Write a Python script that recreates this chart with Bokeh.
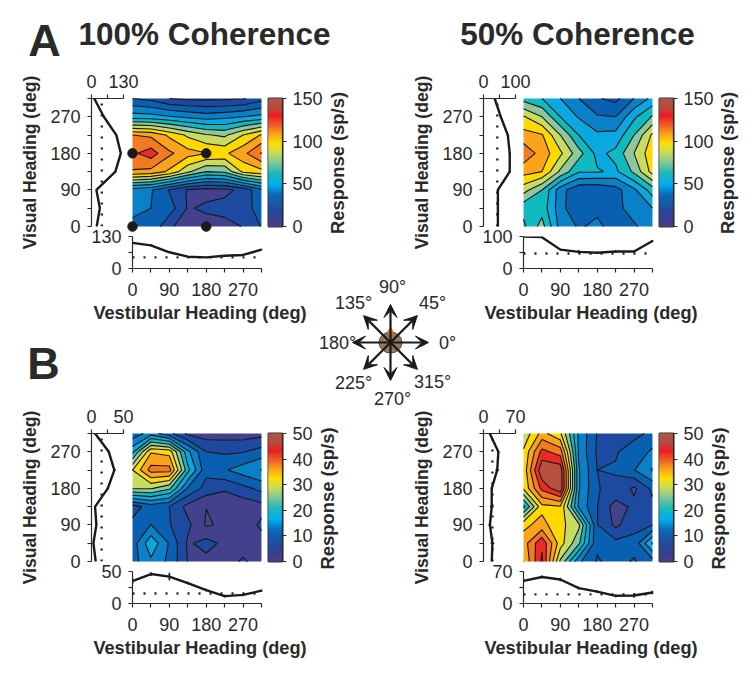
import numpy as np
from bokeh.plotting import figure
from bokeh.embed import file_html
from bokeh.resources import INLINE
from bokeh.core.properties import value
from bokeh.models import LinearAxis, FixedTicker, Range1d, Arrow, VeeHead

headings = [0, 45, 90, 135, 180, 225, 270, 315]
heading_ticks = [0, 90, 180, 270]
heading_minor = [45, 135, 225, 315]

# response grids: one row per visual heading, one column per vestibular heading
a100 = [
    [36, 38, 22, 14, 15, 16, 20.5, 30.5],
    [44, 40, 35, 19, 22, 24, 27, 33],
    [45, 41, 29, 19, 16, 17, 23, 38],
    [109, 107, 98, 82, 70, 72, 92, 97],
    [118, 125, 112, 104, 100.3, 98, 107, 121],
    [110, 108, 98, 88, 81, 78, 90, 101],
    [55, 54, 51, 48, 45, 47, 50, 53],
    [30, 27, 20, 18, 18, 18, 19, 26],
]
a50 = [
    [58, 74, 46, 39, 42, 36, 39, 44],
    [63, 66, 44, 30, 38, 38, 43, 50],
    [84, 70, 44, 32, 31, 36, 48, 65],
    [104, 100, 78, 61, 61, 58, 72, 94],
    [117, 106, 92, 74, 57, 63, 80, 97],
    [104, 101, 80, 60, 52, 53, 70, 92],
    [91, 80, 60, 49, 41, 40, 58, 71],
    [66, 60, 50, 40, 31, 27, 40, 53],
]
b100 = [
    [12, 16, 12.5, 6.6, 5.5, 5, 7.2, 5],
    [11.5, 19, 13, 6.1, 8, 5.8, 5, 5],
    [11, 13.4, 10.2, 7.5, 2.9, 4, 4.5, 7.4],
    [8.5, 11.5, 10, 5.5, 3.4, 4, 4.5, 5.5],
    [27, 27, 24, 13, 8.7, 7.2, 9, 11],
    [30, 38, 38, 21, 11, 13, 15, 16.8],
    [19, 33, 32, 17.5, 10, 9.5, 9.8, 11.4],
    [11, 15, 11, 5.9, 5, 5, 5, 5.5],
]
b50 = [
    [33.3, 44, 26, 14, 9.7, 11, 9.7, 12],
    [35, 42.7, 31.5, 24, 10.5, 11, 11, 20.5],
    [32.5, 34.5, 31, 27.5, 10.1, 5.9, 9, 10],
    [19, 32.4, 33, 16, 10.1, 5, 7.5, 9],
    [30.5, 41, 46, 17, 10.1, 9.5, 6, 10.8],
    [31, 46, 45.5, 17, 10, 10.2, 13.2, 17],
    [30.5, 41, 38.5, 16, 9.5, 9.8, 11, 14],
    [27.5, 34.5, 30.5, 16, 9.8, 9.3, 9.4, 10.5],
]

# marginal tuning curves
a100_vis = [21, 34, 20, 97, 119, 101, 50, 11]
a100_ves = [104, 94, 66, 48, 45, 52, 55, 77]
a50_vis = [45, 45, 45, 82, 82, 76, 54, 35]
a50_ves = [100, 98, 59, 52, 49, 53, 53, 86]
b100_vis = [6.6, 3, 7.6, 5.6, 25.5, 35.7, 27, 5.6]
b100_ves = [35, 46, 42, 32, 21, 11.5, 13.5, 20]
b50_vis = [18, 19.5, 14, 18, 18, 30, 32.5, 13.7]
b50_ves = [49.6, 58, 52.5, 33.5, 26, 16.8, 17.5, 24]

a100_vis_err = [2, 3, 2, 3, 3, 3, 3, 2]
a100_ves_err = [2, 3, 3, 2, 2, 3, 2, 3]
a50_vis_err = [3, 3, 3, 3, 3, 3, 3, 2]
a50_ves_err = [3, 3, 3, 6, 3, 4, 3, 3]
b100_vis_err = [1, 1, 1, 1, 2, 2, 2, 1]
b100_ves_err = [5, 3, 6, 2, 2, 2, 2, 2]
b50_vis_err = [2, 4, 3, 4, 2, 4, 2, 2]
b50_ves_err = [4, 3, 4, 3, 3, 3, 5, 4]

spont = {"a100": (42, 45), "a50": (43, 47), "b100": (15.8, 15.6), "b50": (19.5, 20)}

band_colors = ["#4a4386", "#43408e", "#1c4aa0", "#0a60b0", "#0a80c8", "#0aa8e0", "#10b8c0", "#8cc89c",
               "#c8dc60", "#ffd800", "#fba41b", "#f47a20", "#ee2a24", "#b8503c", "#a85a48"]
bar_stops = [0, .08, .15, .25, .33, .42, .5, .58, .65, .73, .8, .87, .92, 1]
bar_colors = ["#4a4283", "#353f95", "#1f4fa0", "#0a6ab8", "#00aeef", "#1fb8b8", "#7cc79c", "#c8dc5c",
              "#ffe100", "#f9a01b", "#f15a24", "#ed1c24", "#c1443a", "#a85a48"]

dot_x = [0, 0, 180, 180]
dot_y = [0, 180, 0, 180]

compass_angles = [0, 45, 90, 135, 180, 225, 270, 315]
compass_labels = ["0°", "45°", "90°", "135°", "180°", "225°", "270°", "315°"]
compass_label_x = [57, 42, 2, -37, -53, -37, 2, 42]
compass_label_y = [0, 40, 56, 40, 0, -40, -56, -39]

FONT = "Liberation Sans"
INK = "#2a2a2a"


def place(fig, x, y):
    fig.styles = {"position": "absolute", "left": f"{x}px", "top": f"{y}px"}
    return fig


def base(w, h, ml, mr, mt, mb, xr, yr):
    p = figure(frame_width=w, frame_height=h, x_range=xr, y_range=yr,
               x_axis_location=None, y_axis_location=None, toolbar_location=None,
               output_backend="svg", min_border_left=ml, min_border_right=mr,
               min_border_top=mt, min_border_bottom=mb,
               background_fill_color=None, border_fill_color=None, outline_line_color=None)
    p.grid.visible = False
    return p


def axis(ticks, minor=None, label=None, bounds=None, standoff=7, label_standoff=7, label_size="17.6px"):
    ax = LinearAxis(ticker=FixedTicker(ticks=ticks, minor_ticks=minor or []))
    ax.major_label_text_font = FONT
    ax.major_label_text_font_size = "18px"
    ax.major_label_text_color = INK
    ax.major_label_standoff = standoff
    ax.axis_line_color = INK
    ax.axis_line_width = 1.2
    ax.major_tick_line_color = INK
    ax.major_tick_line_width = 1.2
    ax.minor_tick_line_color = INK
    ax.minor_tick_line_width = 1.2
    ax.major_tick_in = 0
    ax.major_tick_out = 4
    ax.minor_tick_in = 0
    ax.minor_tick_out = 4
    if bounds:
        ax.bounds = bounds
    if label:
        ax.axis_label = label
        ax.axis_label_text_font = FONT
        ax.axis_label_text_font_style = "bold"
        ax.axis_label_text_font_size = label_size
        ax.axis_label_text_color = INK
        ax.axis_label_standoff = label_standoff
    return ax


def cmap(n):
    t = (np.arange(n) + .5) / n
    ch = [[int(c[i:i + 2], 16) for c in bar_colors] for i in (1, 3, 5)]
    rgb = [np.interp(t, bar_stops, c).astype(int) for c in ch]
    return ["#%02x%02x%02x" % (r, g, b) for r, g, b in zip(*rgb)]


def panel(x0, y0, bx, z, vis, vis_err, ves, ves_err, sp, rmax, cmax, cticks, dots):
    """x0: left of the marginal; y0: top of the map; bx: left of the map."""
    S = 128.5 / 315
    out = []
    # left marginal
    L = base(32, 128, 80, 30, 30, 30, Range1d(0, rmax), Range1d(0, 315))
    L.add_layout(axis(heading_ticks, heading_minor, "Visual Heading (deg)"), "left")
    L.add_layout(axis([0, rmax], [rmax / 2]), "above")
    L.line([sp[0]] * 2, [0, 315], line_color="#222222", line_width=2.4, line_dash="2 9")
    L.line(vis, headings, line_color="#1a1a1a", line_width=2.4)
    L.segment(np.array(vis) - np.array(vis_err), headings, np.array(vis) + np.array(vis_err), headings,
              line_color="#1a1a1a", line_width=1.6)
    out.append(place(L, x0 - 80, y0 - 30))
    # map
    pad = 8 / S
    H = base(129 + 16, 128 + 16, 0, 0, 0, 0, Range1d(-pad, 315 + pad), Range1d(-pad, 315 + pad))
    levels = list(np.linspace(0, cmax, 16))
    H.contour(headings, headings, np.array(z, dtype=float), levels, fill_color=band_colors, fill_alpha=1,
              line_color="#151515", line_width=1.1)
    if dots:
        H.scatter(dot_x, dot_y, size=9.5, color="#1a1a1a")
    out.append(place(H, bx - 8, y0 - 8))
    # colour bar
    cb_left = bx + 136
    C = base(14, 128, 2, 50, 14, 14, Range1d(0, 1), Range1d(0, cmax))
    edges = np.linspace(0, cmax, 129)
    shades = cmap(128)
    C.quad(left=0, right=1, bottom=edges[:-1], top=edges[1:], fill_color=shades, fill_alpha=1,
           line_color=shades, line_width=1)
    C.outline_line_color = "#333333"
    C.outline_line_width = 2
    C.add_layout(axis(cticks, None, standoff=6), "right")
    out.append(place(C, cb_left - 2, y0 - 14))
    # bottom marginal
    B = base(129 + 6, 32, 50, 50, 12, 66, Range1d(0, 315 + 6 / S), Range1d(0, rmax))
    B.add_layout(axis([0, rmax], [rmax / 2]), "left")
    B.add_layout(axis(heading_ticks, heading_minor, "Vestibular Heading (deg)", (0, 315),
                      standoff=10, label_standoff=4, label_size="18.2px"), "below")
    B.line([0, 315], [sp[1]] * 2, line_color="#222222", line_width=2.4, line_dash="2 9")
    B.line(headings, ves, line_color="#1a1a1a", line_width=2.4)
    B.segment(headings, np.array(ves) - np.array(ves_err), headings, np.array(ves) + np.array(ves_err),
              line_color="#1a1a1a", line_width=1.6)
    out.append(place(B, bx - 50, y0 + 138 - 12))
    return out


figs = []

# page-level headings, positioned in page pixels
T = base(734, 659, 0, 0, 0, 0, Range1d(8, 742), Range1d(667, 8))
heads_x = [204, 577]
heads_t = ["100% Coherence", "50% Coherence"]
T.text(heads_x, [33, 33], heads_t, text_font=value(FONT), text_font_style="bold", text_font_size="31.5px",
       text_color=INK, text_align="center", text_baseline="middle")
T.text([44, 43], [40, 363], ["A", "B"], text_font=value(FONT), text_font_style="bold", text_font_size="45px",
       text_color=INK, text_align="center", text_baseline="middle")
resp_x = [337, 727, 327, 718]
resp_y = [162.5, 162.5, 498, 498]
T.text(resp_x, resp_y, ["Response (sp/s)"] * 4, angle=np.pi / 2, text_font=value(FONT), text_font_style="bold",
       text_font_size="18.4px", text_color=INK, text_align="center", text_baseline="middle")
figs.append(place(T, 8, 8))

figs += panel(91, 98.3, 132, a100, a100_vis, a100_vis_err, a100_ves, a100_ves_err, spont["a100"], 130, 150,
              [0, 50, 100, 150], True)
figs += panel(483, 98.3, 523.3, a50, a50_vis, a50_vis_err, a50_ves, a50_ves_err, spont["a50"], 100, 150,
              [0, 50, 100, 150], False)
figs += panel(91, 433.3, 132, b100, b100_vis, b100_vis_err, b100_ves, b100_ves_err, spont["b100"], 50, 50,
              [0, 10, 20, 30, 40, 50], False)
figs += panel(483, 433.3, 523.3, b50, b50_vis, b50_vis_err, b50_ves, b50_ves_err, spont["b50"], 70, 50,
              [0, 10, 20, 30, 40, 50], False)

# heading compass
K = base(170, 170, 0, 0, 0, 0, Range1d(-85, 85), Range1d(-85, 85))
ang = np.deg2rad(compass_angles)
for a in ang:
    K.add_layout(Arrow(end=VeeHead(size=13, fill_color="#1a1a1a", line_color="#1a1a1a", line_width=1),
                       x_start=0, y_start=0, x_end=38 * np.cos(a), y_end=38 * np.sin(a),
                       line_color="#1a1a1a", line_width=2.2))
K.ellipse([0], [0], width=23, height=21, fill_color="#96775a", line_color="#5a4a3a", line_width=1)
K.scatter([0], [12], marker="triangle", size=6, color="#e8832a")
K.text(compass_label_x, compass_label_y, compass_labels, text_font=value(FONT),
       text_font_size="18px", text_color=INK, text_align="center", text_baseline="middle")
figs.append(place(K, 390 - 85, 342 - 85))

open("out.html", "w").write(file_html(figs, INLINE))
